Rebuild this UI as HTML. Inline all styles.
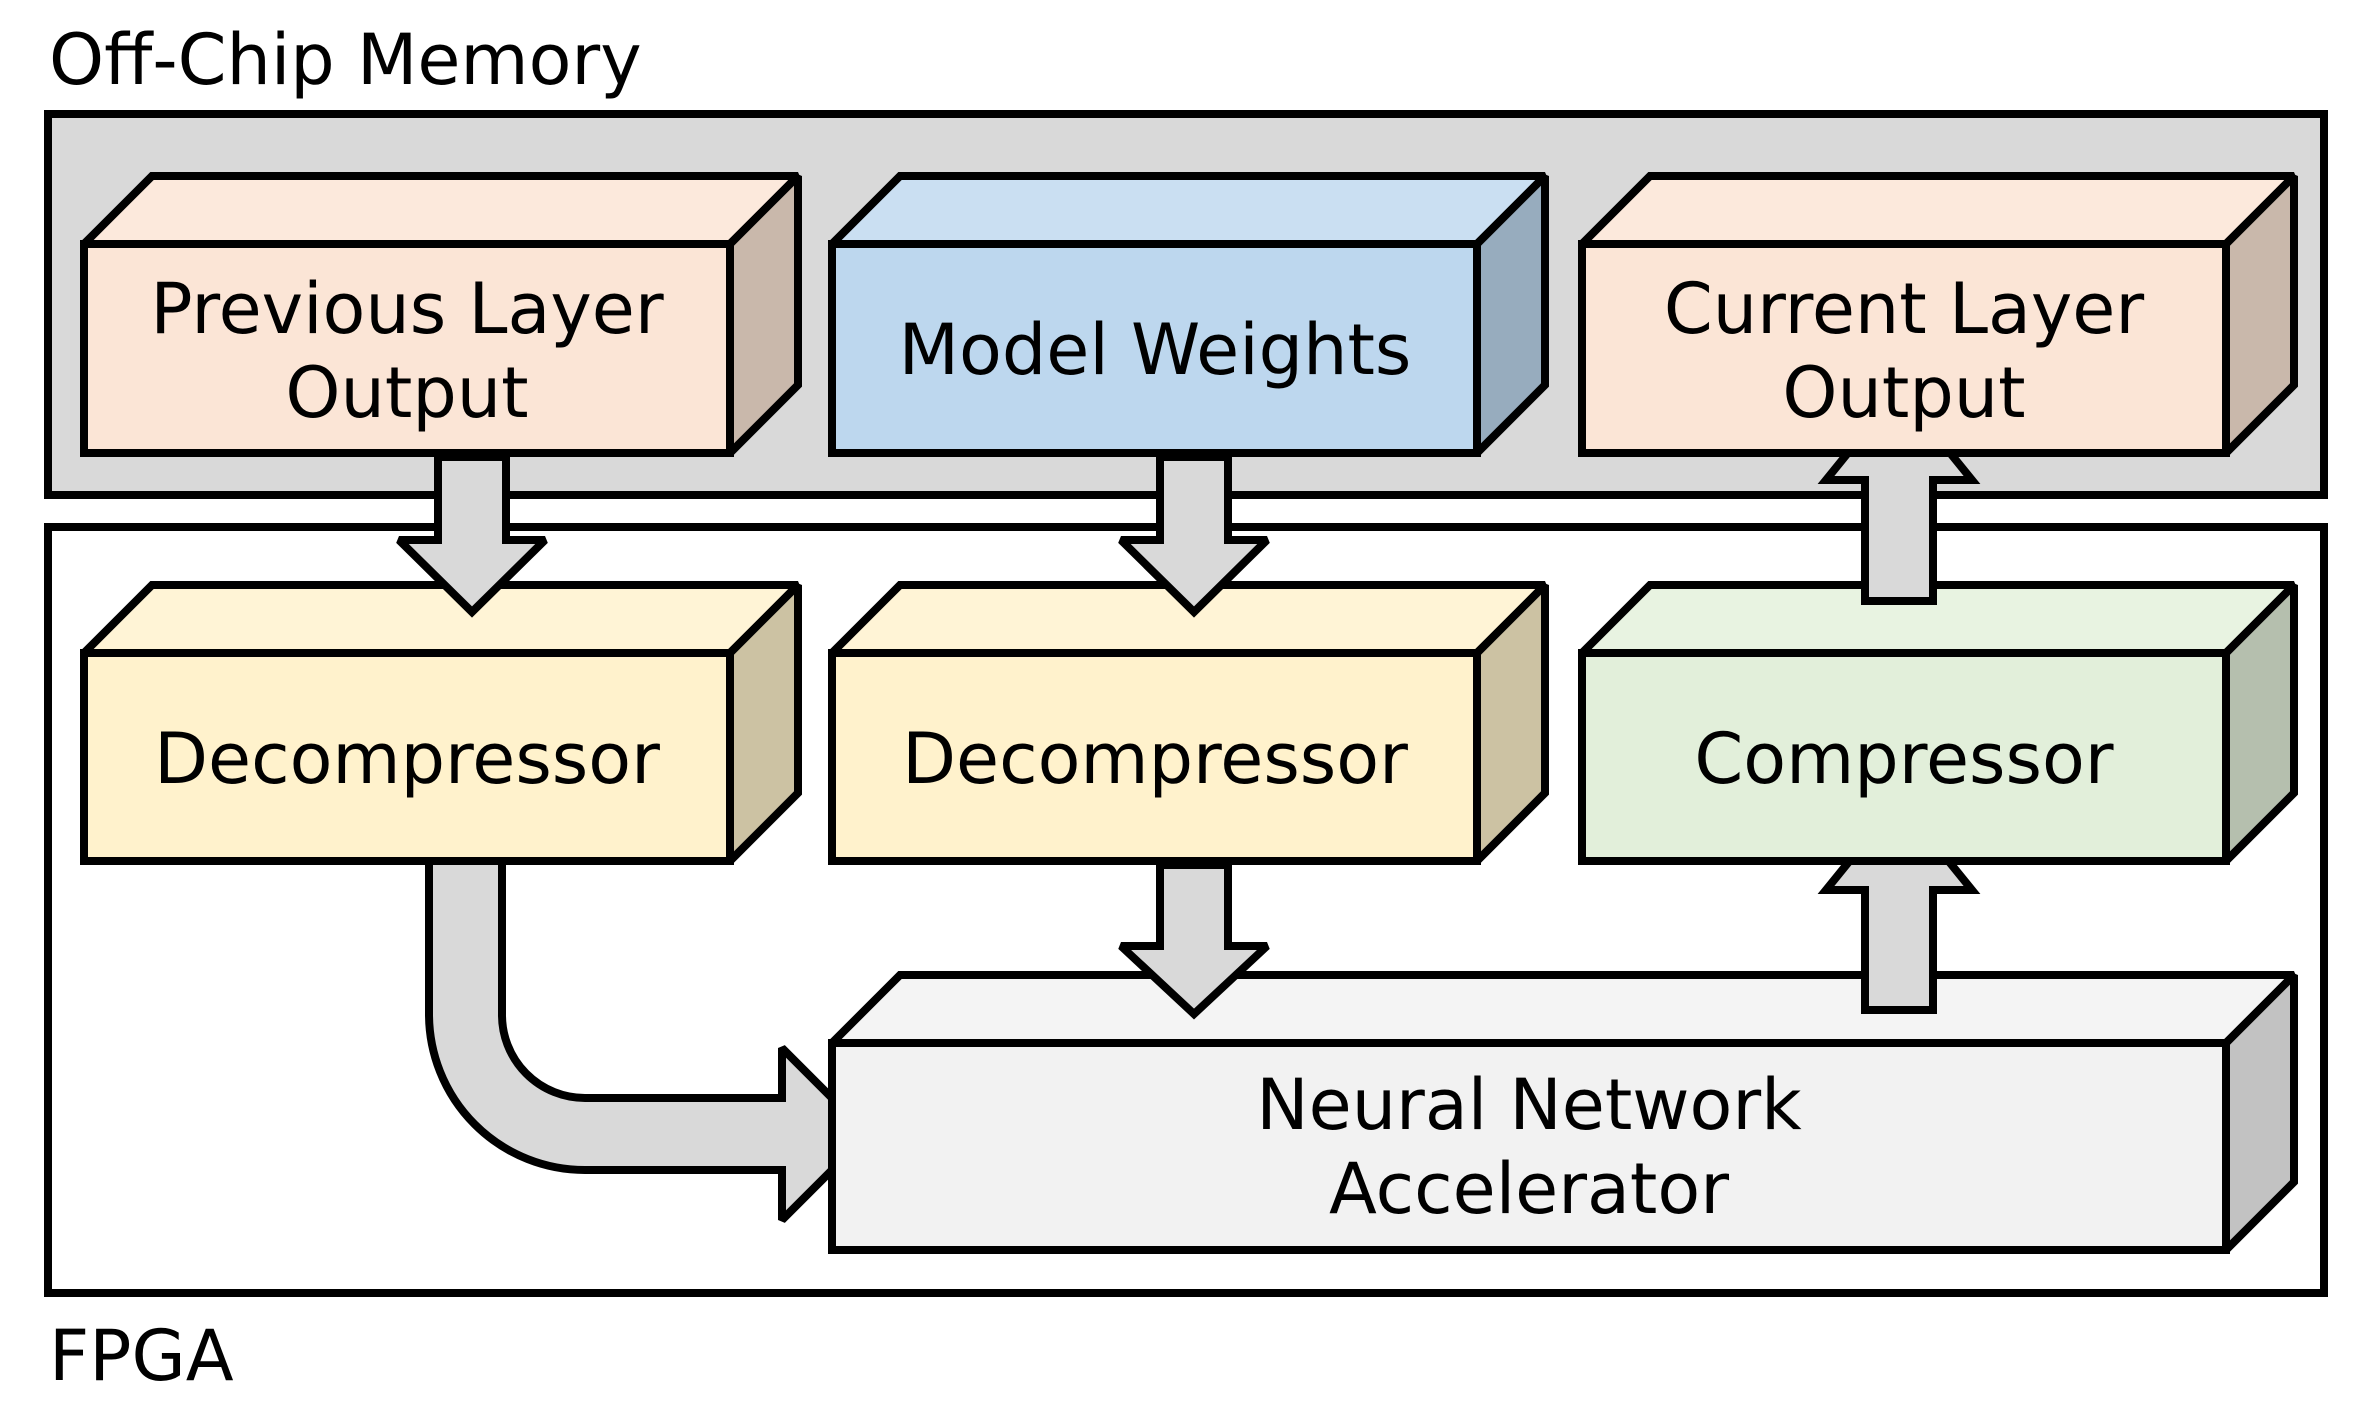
<!DOCTYPE html>
<html><head><meta charset="utf-8"><style>
html,body{margin:0;padding:0;background:#fff}
svg{display:block}
text{font-family:"DejaVu Sans","Liberation Sans",sans-serif;font-size:70px;fill:#000}
</style></head><body>
<svg width="2374" height="1401" viewBox="0 0 2374 1401" xmlns="http://www.w3.org/2000/svg">
<g stroke="#000" stroke-width="8" stroke-linejoin="miter" stroke-miterlimit="2.5">
<!-- containers -->
<rect x="48" y="114" width="2276" height="381" fill="#d9d9d9"/>
<rect x="48" y="527" width="2276" height="766" fill="#fff"/>

<!-- curved arrow (under NNA) -->
<path d="M429 850 L429 1014 A156 156 0 0 0 585 1170 L782 1170 L782 1220 L868 1134 L782 1048 L782 1098 L585 1098 A83 83 0 0 1 502 1014 L502 850 Z" fill="#d9d9d9"/>

<!-- NNA -->
<polygon points="832,1043 900,975 2294,975 2226,1043" fill="#f4f4f4"/>
<polygon points="2226,1043 2294,975 2294,1182 2226,1250" fill="#c2c2c2"/>
<rect x="832" y="1043" width="1394" height="207" fill="#f2f2f2"/>

<!-- up arrow NNA->Compressor -->
<polygon points="1865,1010 1865,890 1826,890 1899,800 1972,890 1933,890 1933,1010" fill="#d9d9d9"/>

<!-- Compressor -->
<polygon points="1582,653 1650,585 2294,585 2226,653" fill="#e8f3e1"/>
<polygon points="2226,653 2294,585 2294,793 2226,861" fill="#b5bfae"/>
<rect x="1582" y="653" width="644" height="208" fill="#e2efda"/>

<!-- up arrow Compressor->Current -->
<polygon points="1865,601 1865,480 1826,480 1899,390 1972,480 1933,480 1933,601" fill="#d9d9d9"/>

<!-- Current Layer Output -->
<polygon points="1582,244 1650,176 2294,176 2226,244" fill="#fce9dc"/>
<polygon points="2226,244 2294,176 2294,385 2226,453" fill="#c9b8ab"/>
<rect x="1582" y="244" width="644" height="209" fill="#fbe5d6"/>

<!-- Previous Layer Output -->
<polygon points="84,244 152,176 798,176 730,244" fill="#fce9dc"/>
<polygon points="730,244 798,176 798,385 730,453" fill="#c9b8ab"/>
<rect x="84" y="244" width="646" height="209" fill="#fbe5d6"/>

<!-- Model Weights -->
<polygon points="832,244 900,176 1545,176 1477,244" fill="#cadff2"/>
<polygon points="1477,244 1545,176 1545,385 1477,453" fill="#97acbe"/>
<rect x="832" y="244" width="645" height="209" fill="#bdd7ee"/>

<!-- Decompressor 1 -->
<polygon points="84,653 152,585 798,585 730,653" fill="#fff4d6"/>
<polygon points="730,653 798,585 798,793 730,861" fill="#ccc2a3"/>
<rect x="84" y="653" width="646" height="208" fill="#fff2cc"/>

<!-- Decompressor 2 -->
<polygon points="832,653 900,585 1545,585 1477,653" fill="#fff4d6"/>
<polygon points="1477,653 1545,585 1545,793 1477,861" fill="#ccc2a3"/>
<rect x="832" y="653" width="645" height="208" fill="#fff2cc"/>

<!-- down arrows -->
<polygon points="438,457 438,540 399,540 472,612 545,540 506,540 506,457" fill="#d9d9d9"/>
<polygon points="1160,457 1160,540 1121,540 1194,612 1267,540 1228,540 1228,457" fill="#d9d9d9"/>
<polygon points="1160,865 1160,946 1121,946 1194,1014 1267,946 1228,946 1228,865" fill="#d9d9d9"/>
</g>

<text x="49" y="84">Off-Chip Memory</text>
<text x="49" y="1380">FPGA</text>
<g text-anchor="middle">
<text x="407" y="333">Previous Layer</text>
<text x="407" y="417">Output</text>
<text x="1155" y="374">Model Weights</text>
<text x="1904" y="333">Current Layer</text>
<text x="1904" y="417">Output</text>
<text x="407" y="783">Decompressor</text>
<text x="1155" y="783">Decompressor</text>
<text x="1904" y="783">Compressor</text>
<text x="1529" y="1129">Neural Network</text>
<text x="1529" y="1213">Accelerator</text>
</g>
</svg>
</body></html>
